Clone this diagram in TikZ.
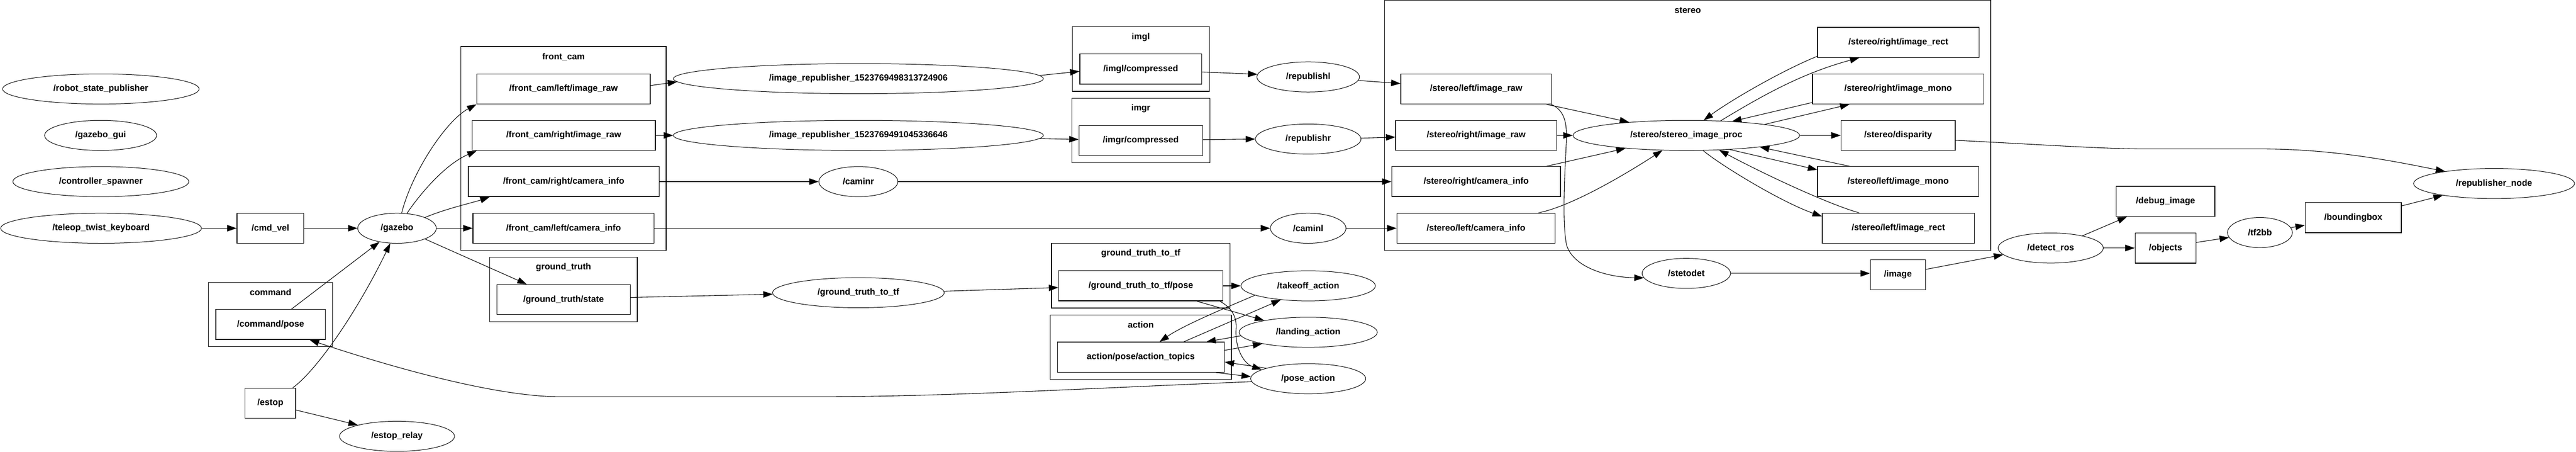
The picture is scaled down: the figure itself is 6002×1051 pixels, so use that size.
\documentclass[tikz,border=0pt]{standalone}
\usepackage{fontspec}
\setmainfont{Liberation Sans}
\usetikzlibrary{arrows.meta,shapes.geometric}
\newcommand{\gvf}{\bfseries\fontsize{20.5}{24}\selectfont}
\begin{document}
\begin{tikzpicture}[x=1pt,y=-1pt,
  every node/.style={font=\gvf},
  topic/.style={draw, rectangle, line width=1.6pt, inner sep=0pt, minimum height=70pt},
  rnode/.style={draw, ellipse, line width=1.2pt, inner sep=0pt, minimum height=70pt},
  cluster/.style={draw, rectangle, line width=1.5pt, inner sep=0pt},
  clabel/.style={inner sep=0pt},
  edge/.style={line width=1.3pt, -{Triangle[length=22pt,width=15pt]}}]
\useasboundingbox (0,0) rectangle (6002,1051);
\fill[white] (0,0) rectangle (6002,1051);
% clusters
\node[cluster, minimum width=289pt, minimum height=149pt] (ccommand) at (630.5,731.5) {};
\node[clabel] (lcommand) at (630.5,680) {command};
\node[cluster, minimum width=478pt, minimum height=474.5pt] (cfront) at (1313,345.25) {};
\node[clabel] (lfront) at (1313,132) {front\_cam};
\node[cluster, minimum width=344pt, minimum height=150.2pt] (cgt) at (1313,673.6) {};
\node[clabel] (lgt) at (1313,622) {ground\_truth};
\node[cluster, minimum width=319pt, minimum height=150.5pt] (cimgl) at (2658.15,137.25) {};
\node[clabel] (limgl) at (2658,86) {imgl};
\node[cluster, minimum width=322pt, minimum height=150pt] (cimgr) at (2658,303.65) {};
\node[clabel] (limgr) at (2658,252) {imgr};
\node[cluster, minimum width=416pt, minimum height=150.5pt] (cgttf) at (2658,641.25) {};
\node[clabel] (lgttf) at (2658,590) {ground\_truth\_to\_tf};
\node[cluster, minimum width=422pt, minimum height=150pt] (caction) at (2658,807.65) {};
\node[clabel] (laction) at (2658,756) {action};
\node[cluster, minimum width=1412pt, minimum height=581.5pt] (cstereo) at (3932.4,291.75) {};
\node[clabel] (lstereo) at (3932.4,24) {stereo};
% nodes
\node[rnode, minimum width=458pt] (rsp) at (235,207) {/robot\_state\_publisher};
\node[rnode, minimum width=261pt] (ggui) at (234.5,315) {/gazebo\_gui};
\node[rnode, minimum width=410pt] (cspawn) at (235,422.5) {/controller\_spawner};
\node[rnode, minimum width=468pt] (teleop) at (235.5,531) {/teleop\_twist\_keyboard};
\node[topic, minimum width=156pt] (cmdvel) at (630,531) {/cmd\_vel};
\node[rnode, minimum width=183pt] (gazebo) at (925,531) {/gazebo};
\node[topic, minimum width=255pt] (cmdpose) at (630.5,755) {/command/pose};
\node[topic, minimum width=118pt] (estop) at (630,938) {/estop};
\node[rnode, minimum width=268pt] (estoprelay) at (925,1015) {/estop\_relay};
\node[topic, minimum width=404pt] (fcli) at (1313,207) {/front\_cam/left/image\_raw};
\node[topic, minimum width=427pt] (fcri) at (1313.5,315) {/front\_cam/right/image\_raw};
\node[topic, minimum width=445pt] (fcrc) at (1313.5,422.5) {/front\_cam/right/camera\_info};
\node[topic, minimum width=422pt] (fclc) at (1313,531) {/front\_cam/left/camera\_info};
\node[topic, minimum width=311pt] (gts) at (1313,697) {/ground\_truth/state};
\node[rnode, minimum width=862pt] (irl) at (2000,183) {/image\_republisher\_1523769498313724906};
\node[rnode, minimum width=862pt] (irr) at (2000,315) {/image\_republisher\_1523769491045336646};
\node[rnode, minimum width=184pt] (caminr) at (2000,422.5) {/caminr};
\node[rnode, minimum width=400pt] (gttf) at (2000,681) {/ground\_truth\_to\_tf};
\node[topic, minimum width=284pt] (imglc) at (2658,160.5) {/imgl/compressed};
\node[topic, minimum width=288pt] (imgrc) at (2658,327) {/imgr/compressed};
\node[topic, minimum width=383pt] (gtfp) at (2658,665) {/ground\_truth\_to\_tf/pose};
\node[topic, minimum width=389pt] (apat) at (2658,831) {action/pose/action\_topics};
\node[rnode, minimum width=239pt] (republishl) at (3048,179) {/republishl};
\node[rnode, minimum width=246pt] (republishr) at (3048,323.5) {/republishr};
\node[rnode, minimum width=176pt] (caminl) at (3048,531) {/caminl};
\node[rnode, minimum width=313pt] (takeoff) at (3048,665) {/takeoff\_action};
\node[rnode, minimum width=322pt] (landing) at (3048,773) {/landing\_action};
\node[rnode, minimum width=268pt] (poseact) at (3048,881) {/pose\_action};
\node[topic, minimum width=351pt] (sli) at (3439.5,207) {/stereo/left/image\_raw};
\node[topic, minimum width=375pt] (sri) at (3439.5,315) {/stereo/right/image\_raw};
\node[topic, minimum width=393pt] (src) at (3439.5,422.5) {/stereo/right/camera\_info};
\node[topic, minimum width=368.5pt] (slc) at (3439,531) {/stereo/left/camera\_info};
\node[rnode, minimum width=528pt] (proc) at (3929,315) {/stereo/stereo\_image\_proc};
\node[rnode, minimum width=206pt] (stetodet) at (3929,636) {/stetodet};
\node[topic, minimum width=376pt] (srr) at (4423,98.5) {/stereo/right/image\_rect};
\node[topic, minimum width=399pt] (srm) at (4422.5,207) {/stereo/right/image\_mono};
\node[topic, minimum width=266pt] (disp) at (4422.5,315) {/stereo/disparity};
\node[topic, minimum width=375pt] (slm) at (4422.5,422.5) {/stereo/left/image\_mono};
\node[topic, minimum width=354.5pt] (slr) at (4423,531) {/stereo/left/image\_rect};
\node[topic, minimum width=128.5pt] (image) at (4422,639) {/image};
\node[rnode, minimum width=245pt] (detect) at (4778,577) {/detect\_ros};
\node[topic, minimum width=230pt] (debug) at (5045.6,468.5) {/debug\_image};
\node[topic, minimum width=142pt] (objects) at (5045.6,577) {/objects};
\node[rnode, minimum width=151pt] (tf2bb) at (5265.5,541) {/tf2bb};
\node[topic, minimum width=224pt] (bbox) at (5483,506.5) {/boundingbox};
\node[rnode, minimum width=375pt] (repnode) at (5811,427) {/republisher\_node};
% edges: left part
\draw[edge] (teleop.east) -- (cmdvel.west);
\draw[edge] (cmdvel.east) -- (gazebo.west);
\draw[edge] ([xshift=48.5pt]cmdpose.north) -- (gazebo.218);
\draw[edge] ([xshift=52pt]estop.north) .. controls (740,860) and (835,720) .. (gazebo.246.6);
\draw[edge] ([yshift=-16pt]estop.east) -- (estoprelay.164.6);
\draw[edge] (gazebo.73) .. controls (960,400) and (1040,280) .. (fcli.south west);
\draw[edge] (gazebo.56.7) .. controls (965,470) and (1030,385) .. ([xshift=11.6pt]fcri.south west);
\draw[edge] (gazebo.21.5) .. controls (1040,485) and (1100,472) .. ([xshift=50.6pt]fcrc.south west);
\draw[edge] (gazebo.east) -- (fclc.west);
\draw[edge] (gazebo.339.3) -- ([xshift=70.5pt]gts.north west);
% front cam outputs
\draw[edge] ([yshift=8pt]fcli.east) -- (irl.181.8);
\draw[edge] (fcri.east) -- (irr.west);
\draw[edge] (fcrc.east) -- (caminr.west);
\draw[edge] (fclc.east) -- (caminl.west);
\draw[edge] ([yshift=5pt]gts.east) -- (gttf.181.1);
\draw[edge] (irl.1.93) -- ([yshift=-5.5pt]imglc.west);
\draw[edge] (irr.359.05) -- ([yshift=2.6pt]imgrc.west);
\draw[edge] ([yshift=-7pt]imglc.east) -- (republishl.177.4);
\draw[edge] ([yshift=2pt]imgrc.east) -- (republishr.west);
\draw[edge] (caminr.east) -- (src.west);
\draw[edge] (gttf.1.5) -- ([yshift=-4pt]gtfp.west);
% action area
\draw[edge] (gtfp.east) -- (takeoff.west);
\draw[edge] ([xshift=-61.5pt]gtfp.south east) -- (landing.165.1);
\draw[edge] ([xshift=-8pt]gtfp.south east) .. controls (2868,715) and (2882,735) .. (2880,765) .. controls (2877,805) and (2895,845) .. (poseact.169.5);
\draw[edge] (takeoff.190) .. controls (2870,710) and (2760,755) .. ([xshift=43.7pt]apat.north);
\draw[edge] ([xshift=100pt]apat.north) -- (takeoff.207.8);
\draw[edge] (landing.183.6) -- ([xshift=-42.7pt]apat.north east);
\draw[edge] ([yshift=16pt]apat.east) -- (landing.194.1);
\draw[edge] (poseact.166) -- ([yshift=-11.3pt]apat.east);
\draw[edge] ([xshift=-19.5pt]apat.south east) -- (poseact.178.4);
\draw[edge] (poseact.183.9) .. controls (2500,905) and (2200,923) .. (1900,923) -- (1306,923) .. controls (1150,923) and (900,850) .. ([xshift=-37.3pt]cmdpose.south east);
% stereo
\draw[edge] (republishl.356.1) -- ([yshift=12.6pt]sli.west);
\draw[edge] (republishr.1.6) -- ([yshift=-4pt]sri.west);
\draw[edge] (caminl.east) -- (slc.west);
\draw[edge] ([xshift=-12.3pt]sli.south east) -- (proc.167.75);
\draw[edge] (sri.east) -- (proc.west);
\draw[edge] ([xshift=-33.3pt]src.north east) -- (proc.192.25);
\draw[edge] ([xshift=-39.7pt]slc.north east) .. controls (3660,480) and (3780,410) .. (proc.212.3);
\draw[edge] ([xshift=-1.5pt]sli.south east) .. controls (3648,258) and (3652,290) .. (3649,340) .. controls (3645,420) and (3640,520) .. (3650,570) .. controls (3665,620) and (3740,645) .. (stetodet.186.3);
\draw[edge] ([yshift=3.4pt]srr.south west) .. controls (4150,165) and (4030,235) .. (proc.41.7);
\draw[edge] (proc.23.5) .. controls (4110,220) and (4200,170) .. ([xshift=98pt]srr.south west);
\draw[edge] ([yshift=4.3pt]srm.south west) -- (proc.17.4);
\draw[edge] (proc.8.5) -- ([xshift=87pt]srm.south west);
\draw[edge] (proc.east) -- (disp.west);
\draw[edge] ([xshift=75pt]slm.north west) -- (proc.351.5);
\draw[edge] (proc.342.6) -- ([yshift=-8.3pt]slm.north west);
\draw[edge] ([xshift=87pt]slr.north west) .. controls (4260,475) and (4110,405) .. (proc.336.5);
\draw[edge] (proc.318.3) .. controls (4010,385) and (4150,470) .. ([yshift=27.7pt]slr.west);
% right part
\draw[edge] ([yshift=-11.4pt]disp.east) .. controls (4750,336) and (4900,346.5) .. (5000,346.5) -- (5268,346.5) .. controls (5450,346.5) and (5600,380) .. (repnode.166.7);
\draw[edge] (stetodet.east) -- (stetodet.east -| image.west);
\draw[edge] ([yshift=12.3pt]image.east) -- (detect.188.65);
\draw[edge] (detect.21.6) -- ([xshift=26pt]debug.south west);
\draw[edge] (detect.east) -- (objects.west);
\draw[edge] ([yshift=13pt]objects.east) -- (tf2bb.189.4);
\draw[edge] (tf2bb.9) -- ([yshift=-17.5pt]bbox.west);
\draw[edge] ([yshift=27.5pt]bbox.east) -- (repnode.193.9);
\end{tikzpicture}
\end{document}
